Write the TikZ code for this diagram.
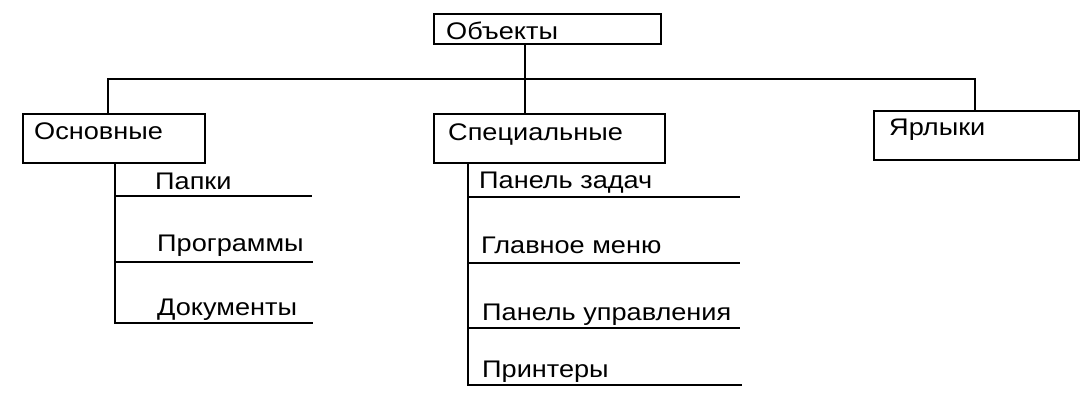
\documentclass[tikz,border=0pt]{standalone}
\usepackage{fontspec}
\setmainfont{Liberation Sans}
\newcommand\sx[1]{\scalebox{1.13}[1]{#1}}
\tikzset{
  box/.style={draw, line width=1.7pt, anchor=north west, inner sep=0pt},
  lbl/.style={anchor=base west, inner sep=0pt, font=\fontsize{24}{27}\selectfont},
  ln/.style={line width=1.7pt}
}
\begin{document}
\begin{tikzpicture}[x=1pt,y=-1pt]
\useasboundingbox (0,0) rectangle (1085,408);
% boxes
\node[box, minimum width=227pt, minimum height=30pt] (obj) at (433,13) {};
\node[box, minimum width=182pt, minimum height=49pt] (osn) at (22,113) {};
\node[box, minimum width=231pt, minimum height=49pt] (spec) at (433,113) {};
\node[box, minimum width=205pt, minimum height=49pt] (jar) at (873,110) {};
% labels
\node[lbl] (tobj) at (446,39) {\sx{Объекты}};
\node[lbl] (tosn) at (34,139) {\sx{Основные}};
\node[lbl] (tspec) at (448,140) {\sx{Специальные}};
\node[lbl] (tjar) at (889,135) {\sx{Ярлыки}};
\node[lbl] (papki) at (155,189) {\sx{Папки}};
\node[lbl] (progr) at (157,251) {\sx{Программы}};
\node[lbl] (doc) at (157,315) {\sx{Документы}};
\node[lbl] (pz) at (479,188) {\sx{Панель задач}};
\node[lbl] (gm) at (481,253) {\sx{Главное меню}};
\node[lbl] (pu) at (482,320) {\sx{Панель управления}};
\node[lbl] (pr) at (482,377) {\sx{Принтеры}};
% tree connectors
\coordinate (jt) at (525,79);
\coordinate (cL) at (108,79);
\coordinate (cR) at (975,79);
\draw[ln] (obj.south -| jt) -- (jt);
\draw[ln] (osn.north -| cL) -- (cL) -- (cR) -- (jar.north -| cR);
\draw[ln] (jt) -- (spec.north -| jt);
% Osnovnye branch
\coordinate (o1) at (115,196); \coordinate (o1e) at (312,196);
\coordinate (o2) at (115,262); \coordinate (o2e) at (313,262);
\coordinate (o3) at (115,323); \coordinate (o3e) at (313,323);
\draw[ln] (osn.south -| o3) -- (o3) -- (o3e);
\draw[ln] (o1) -- (o1e);
\draw[ln] (o2) -- (o2e);
% Specialnye branch
\coordinate (s1) at (468,197); \coordinate (s1e) at (740,197);
\coordinate (s2) at (468,263); \coordinate (s2e) at (740,263);
\coordinate (s3) at (468,328); \coordinate (s3e) at (740,328);
\coordinate (s4) at (468,385); \coordinate (s4e) at (742,385);
\draw[ln] (spec.south -| s4) -- (s4) -- (s4e);
\draw[ln] (s1) -- (s1e);
\draw[ln] (s2) -- (s2e);
\draw[ln] (s3) -- (s3e);
\end{tikzpicture}
\end{document}
